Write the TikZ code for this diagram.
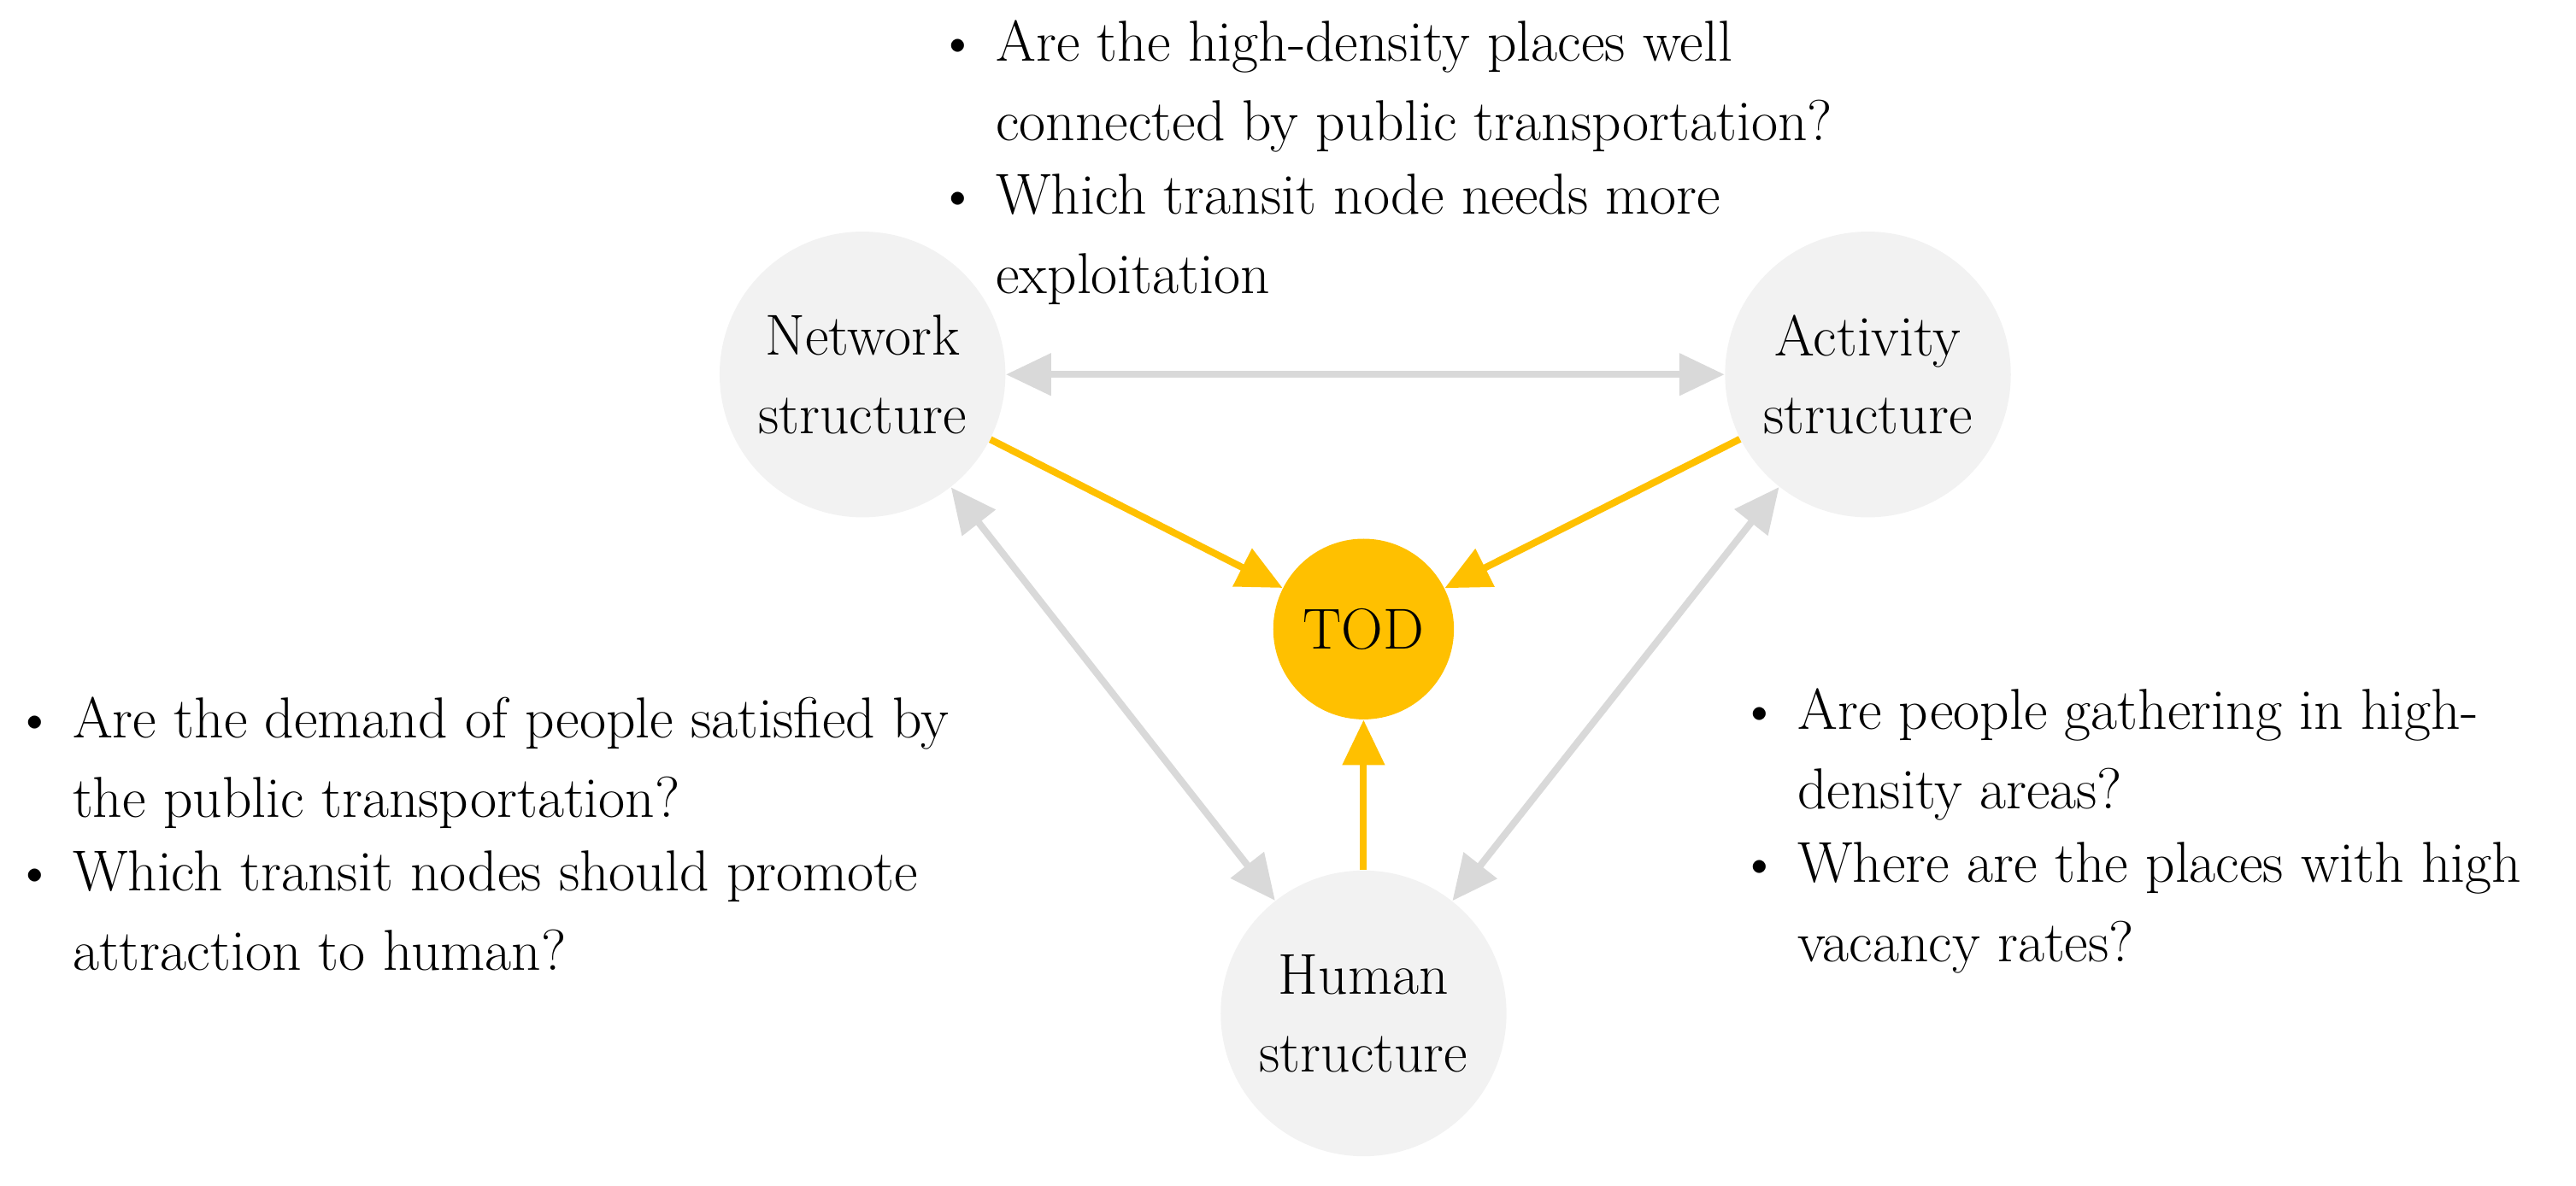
\documentclass[tikz,border=0pt]{standalone}
\usetikzlibrary{arrows.meta}
\begin{document}
\begin{tikzpicture}[x=0.02cm,y=-0.02cm,
  circ/.style={circle,fill=black!5,minimum size=3.48cm,inner sep=0pt,align=center,font=\fontsize{20}{27}\selectfont},
  gar/.style={draw=black!15,line width=2.4pt,{Triangle[length=0.55cm,width=0.5cm]}-{Triangle[length=0.55cm,width=0.5cm]}},
  oar/.style={draw=orange!60!yellow,line width=2.4pt,-{Triangle[length=0.55cm,width=0.5cm]}},
  txt/.style={anchor=north west,align=left,inner sep=0pt,font=\fontsize{20}{27.5}\selectfont}]
\useasboundingbox (0,0) rectangle (1568,722);
\definecolor{tod}{HTML}{FFC000}
\node[circ] (net) at (525,228) {Network\\structure};
\node[circ] (act) at (1137,228) {Activity\\structure};
\node[circ] (hum) at (830,617) {Human\\structure};
\node[circ,fill=tod,minimum size=2.2cm] (tod) at (830,383) {TOD};
\draw[gar] (net) -- (act);
\draw[gar] (net) -- (hum);
\draw[gar] (act) -- (hum);
\draw[oar,draw=tod,-{Triangle[length=0.55cm,width=0.5cm,fill=tod]}] (net) -- (tod);
\draw[oar,draw=tod,-{Triangle[length=0.55cm,width=0.5cm,fill=tod]}] (act) -- (tod);
\draw[oar,draw=tod,-{Triangle[length=0.55cm,width=0.5cm,fill=tod]}] (hum) -- (tod);
\node[txt] (t1) at (570,12) {\textbullet\ Are the high-density places well\\
\phantom{\textbullet\ }connected by public transportation?\\[-2pt]
\textbullet\ Which transit node needs more\\
\phantom{\textbullet\ }exploitation};
\node[txt] (t2) at (8,424) {\textbullet\ Are the demand of people satisfied by\\
\phantom{\textbullet\ }the public transportation?\\[-2pt]
\textbullet\ Which transit nodes should promote\\
\phantom{\textbullet\ }attraction to human?};
\node[txt] (t3) at (1058,419) {\textbullet\ Are people gathering in high-\\
\phantom{\textbullet\ }density areas?\\[-2pt]
\textbullet\ Where are the places with high\\
\phantom{\textbullet\ }vacancy rates?};
\end{tikzpicture}
\end{document}
